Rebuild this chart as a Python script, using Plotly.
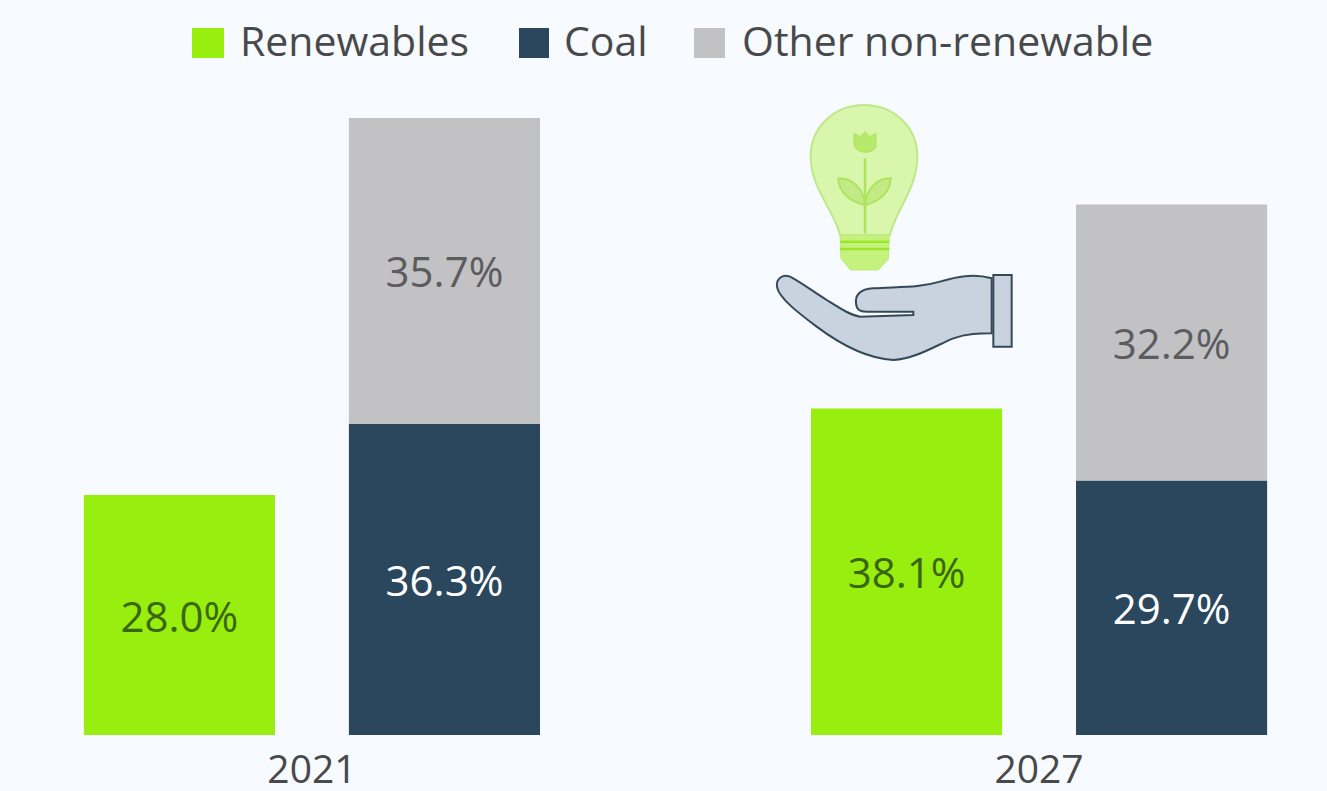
import plotly.graph_objects as go

years = ["2021", "2027"]
renewables = [28.0, 38.1]
coal = [36.3, 29.7]
other = [35.7, 32.2]
series_names = ["Renewables", "Coal", "Other non-renewable"]

W, H = 1327, 791
PLOT_H = 735
BG = "#f7fafe"
GREEN = "#97ee0f"
NAVY = "#2a475e"
GREY = "#c2c2c5"
FONT = "Open Sans"
LABEL_SIZE = 42


def zoom_path(d):
    """Icon outline given in reference pixels offset by a 3x crop -> paper coordinates."""
    out, is_x = [], True
    for tok in d.split():
        if tok.isalpha():
            out.append(tok)
            is_x = True
        else:
            v = float(tok)
            if is_x:
                out.append(f"{(760 + v / 3) / W:.5f}")
            else:
                out.append(f"{1 - (95 + v / 3) / PLOT_H:.5f}")
            is_x = not is_x
    return " ".join(out)


def icon(d, fill=None, color=None, width=1.5):
    return dict(
        type="path", xref="paper", yref="paper", layer="above",
        path=zoom_path(d), fillcolor=fill or "rgba(0,0,0,0)",
        line=dict(color=color or "rgba(0,0,0,0)", width=width),
    )


fig = go.Figure()
label = "%{y:.1f}%"
fig.add_bar(x=years, y=renewables, name=series_names[0], offsetgroup="a",
            marker=dict(color=GREEN, line_width=0), texttemplate=label,
            textposition="inside", insidetextanchor="middle",
            textfont=dict(color="#3a6610", size=LABEL_SIZE, family=FONT))
fig.add_bar(x=years, y=coal, name=series_names[1], offsetgroup="b",
            marker=dict(color=NAVY, line_width=0), texttemplate=label,
            textposition="inside", insidetextanchor="middle",
            textfont=dict(color="#ffffff", size=LABEL_SIZE, family=FONT))
fig.add_bar(x=years, y=other, base=coal, name=series_names[2], offsetgroup="b",
            marker=dict(color=GREY, line_width=0), texttemplate=label,
            textposition="inside", insidetextanchor="middle",
            textfont=dict(color="#5c5c5e", size=LABEL_SIZE, family=FONT))

shapes = [
    # bulb
    icon("M 240 420 C 225 350 152 280 152 185 C 152 95 225 30 312 30 C 400 30 472 95 472 185 "
         "C 472 280 405 350 390 420 Z", fill="#d9f6ad", color="#bfe88a", width=2),
    icon("M 240 420 L 388 420 L 385 492 L 355 525 L 272 525 L 243 492 Z", fill="#c5f27c", color="#bdea7c", width=1),
    icon("M 240 440 L 388 440", color="#9be82a", width=2.5),
    icon("M 240 462 L 388 462", color="#9be82a", width=2.5),
    icon("M 315 415 L 315 190", color="#aee35f", width=2.5),
    icon("M 282 145 L 282 115 L 300 125 L 315 110 L 330 125 L 348 115 L 348 150 C 348 180 282 180 282 145 Z",
         fill="#b6ea6a", color="#aee35f", width=1),
    icon("M 315 330 C 270 320 235 290 235 250 C 280 250 310 280 315 330 Z", fill="#c2eb85", color="#aee35f", width=2),
    icon("M 315 330 C 360 320 392 290 392 250 C 350 250 320 280 315 330 Z", fill="#c2eb85", color="#aee35f", width=2),
    # hand
    icon("M 695 550 C 640 535 590 545 540 560 C 480 578 420 575 340 580 C 300 582 285 600 288 625 "
         "C 290 645 300 650 320 650 L 460 650 L 460 660 L 300 665 C 270 660 240 640 200 615 "
         "C 160 590 120 560 90 545 C 65 535 45 555 52 580 C 60 610 110 650 170 695 "
         "C 230 740 310 790 400 795 C 470 790 530 750 580 730 C 620 715 660 715 695 715 Z",
         fill="#c9d3df", color="#33495a", width=2),
    icon("M 700 540 L 755 540 L 755 755 L 700 755 Z", fill="#c9d3df", color="#33495a", width=2),
]

# legend drawn at its reference size
swatches = [(192, 224, GREEN), (519, 549, NAVY), (694, 725, GREY)]
for x0, x1, col in swatches:
    shapes.append(dict(type="rect", xref="paper", yref="paper", x0=x0 / W, x1=x1 / W,
                       y0=1 - 58 / PLOT_H, y1=1 - 28 / PLOT_H, fillcolor=col, line_width=0))
legend_x = [238, 562, 740]
annotations = [
    dict(text=n, x=x / W, y=1 - 40 / PLOT_H, xref="paper", yref="paper", xanchor="left",
         yanchor="middle", showarrow=False, font=dict(size=41, family=FONT, color="#48494b"))
    for n, x in zip(series_names, legend_x)
]

fig.update_layout(
    width=W, height=H, paper_bgcolor=BG, plot_bgcolor=BG, showlegend=False,
    margin=dict(l=0, r=0, t=0, b=H - PLOT_H),
    barmode="group", bargap=0.271, bargroupgap=0.279,
    shapes=shapes, annotations=annotations,
    font=dict(family=FONT),
    xaxis=dict(type="category", categoryorder="array", categoryarray=years,
               range=[-0.429, 1.396], showgrid=False, showline=False, ticks="",
               ticklabelstandoff=8, automargin=False,
               tickfont=dict(size=39, family=FONT, color="#48494b")),
    yaxis=dict(range=[0, 85.76], visible=False, showgrid=False, zeroline=False),
)

fig.write_html("out.html", config={"displayModeBar": False},
               post_script="document.body.style.margin='0';")
